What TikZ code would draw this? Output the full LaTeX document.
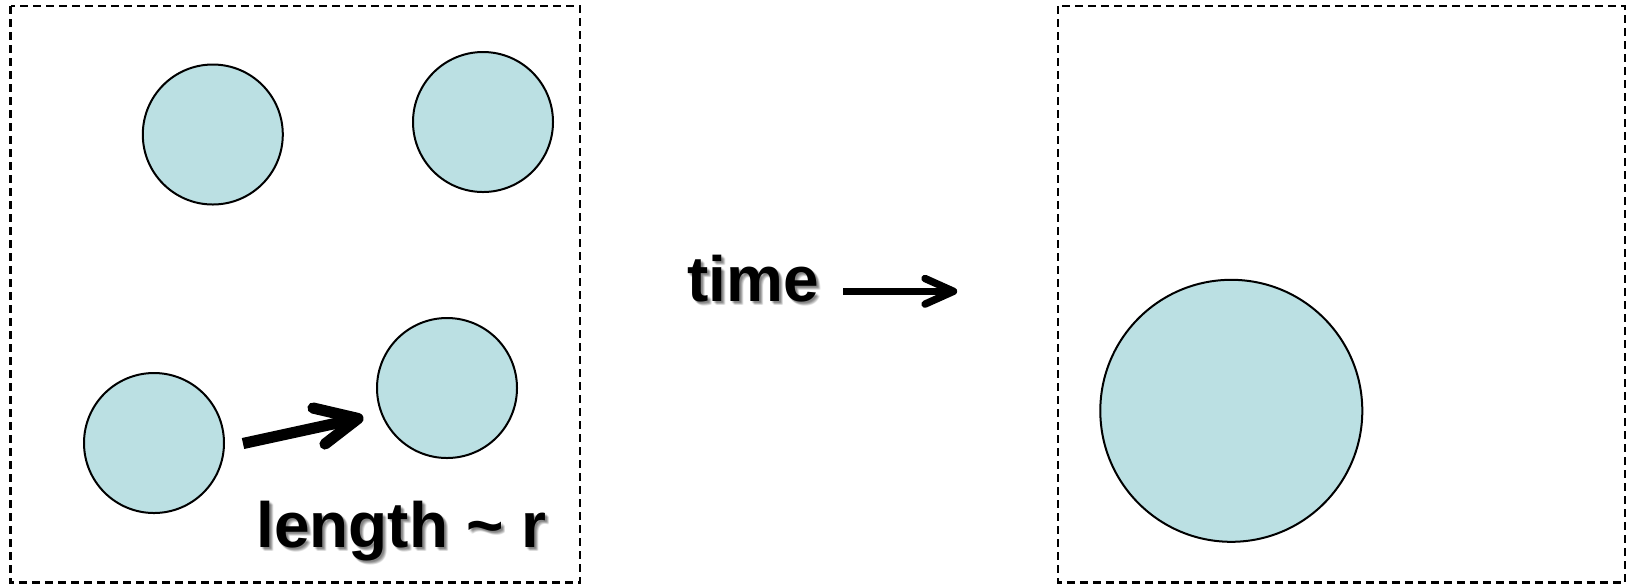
\documentclass[tikz,border=0pt]{standalone}
\usepackage{fontspec}
\setmainfont{Liberation Sans}
\definecolor{ballfill}{HTML}{BBE0E3}
\begin{document}
\begin{tikzpicture}[x=0.5pt,y=-0.5pt,
  ball/.style={circle,draw=black,line width=1pt,fill=ballfill,inner sep=0pt,minimum size=70pt},
  bigball/.style={ball,minimum size=131pt},
  frame/.style={draw=black,line width=1.1pt,dash pattern=on 4pt off 2.5pt},
  lbl/.style={inner sep=0pt,anchor=base west,font=\fontsize{32}{38}\selectfont\bfseries},
  shadowlbl/.style={lbl,text=black,opacity=0.07},
  fatarrow/.style={line width=5.6pt,line cap=butt},
  fathead/.style={line width=5.6pt,line cap=round,line join=round},
  thinarrow/.style={line width=3.7pt,line cap=butt},
  thinhead/.style={line width=3.7pt,line cap=round,line join=round}]
\useasboundingbox (0,0) rectangle (1631,586);
% frames
\draw[frame] (10.5,6) rectangle (580,582.5);
\draw[frame] (1058.3,6) rectangle (1625,582.5);
% balls
\node[ball] (c1) at (212.8,134.5) {};
\node[ball] (c2) at (483,122) {};
\node[ball] (c3) at (154,443) {};
\node[ball] (c4) at (447,388) {};
\node[bigball] (big) at (1231.3,410.8) {};
% length arrow
\coordinate (la) at (243,443.5);
\coordinate (lb) at (358,418.5);
\coordinate (lu) at (313,408);
\coordinate (ld) at (325,444);
\draw[fatarrow] (la) -- (lb);
\draw[fathead] (lu) -- (lb) -- (ld);
% time arrow
\coordinate (ta) at (843,291.3);
\coordinate (tb) at (953.5,291.3);
\coordinate (tu) at (925,278.5);
\coordinate (td) at (925,304.1);
\draw[thinarrow] (ta) -- (tb);
\draw[thinhead] (tu) -- (tb) -- (td);
% labels with soft shadow
\foreach \dx/\dy [count=\i] in {2/2,3/3,4/4,3/2,2/3,4/3,3/4,1/2,2/1} {
  \node[shadowlbl] (lenS\i) at (256+\dx,547+\dy) {length \char`~\ r};
  \node[shadowlbl] (timeS\i) at (687+\dx,301+\dy) {time};
}
\node[lbl] (len) at (256,547) {length \char`~\ r};
\node[lbl] (time) at (687,301) {time};
\end{tikzpicture}
\end{document}
